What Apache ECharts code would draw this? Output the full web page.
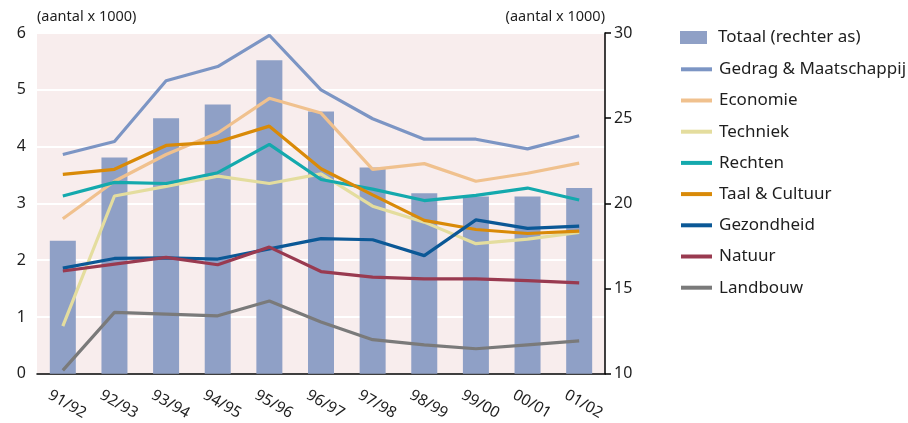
<!DOCTYPE html>
<html>
<head>
<meta charset="utf-8">
<script src="https://cdn.jsdelivr.net/npm/echarts@6/dist/echarts.min.js"></script>
<style>
  html, body { margin: 0; padding: 0; background: #ffffff; }
  #chart { width: 908px; height: 423px; }
</style>
</head>
<body>
<div id="chart"></div>
<script>
// Academic years
const years = ['91/92', '92/93', '93/94', '94/95', '95/96', '96/97', '97/98', '98/99', '99/00', '00/01', '01/02'];

// Total (right axis, x 1000)
const totaal = [17.8, 22.7, 25.0, 25.8, 28.4, 25.4, 22.1, 20.6, 20.4, 20.4, 20.9];

// Per sector (left axis, x 1000)
const gedrag     = [3.86, 4.09, 5.16, 5.41, 5.96, 5.00, 4.49, 4.13, 4.13, 3.96, 4.19];
const economie   = [2.73, 3.39, 3.86, 4.24, 4.85, 4.59, 3.60, 3.70, 3.39, 3.53, 3.71];
const techniek   = [0.84, 3.13, 3.30, 3.48, 3.35, 3.52, 2.95, 2.67, 2.29, 2.37, 2.49];
const rechten    = [3.13, 3.37, 3.35, 3.54, 4.04, 3.42, 3.25, 3.05, 3.14, 3.27, 3.06];
const taal       = [3.51, 3.60, 4.02, 4.08, 4.36, 3.61, 3.15, 2.70, 2.54, 2.47, 2.51];
const gezondheid = [1.86, 2.03, 2.04, 2.02, 2.20, 2.38, 2.36, 2.08, 2.71, 2.56, 2.60];
const natuur     = [1.81, 1.93, 2.05, 1.92, 2.23, 1.80, 1.70, 1.67, 1.67, 1.64, 1.60];
const landbouw   = [0.06, 1.08, 1.05, 1.02, 1.28, 0.91, 0.60, 0.51, 0.44, 0.51, 0.58];

const leftTicks = { min: 0, max: 6, interval: 1 };
const rightTicks = { min: 10, max: 30, interval: 5 };

const FONT = '"Noto Sans", "DejaVu Sans", sans-serif';
const INK = '#1e1e1e';

const lineDefs = [
  { name: 'Gedrag & Maatschappij', data: gedrag,     color: '#7c95c4' },
  { name: 'Economie',              data: economie,   color: '#f0c18e' },
  { name: 'Techniek',              data: techniek,   color: '#e4dd9e' },
  { name: 'Rechten',               data: rechten,    color: '#14a9ad' },
  { name: 'Taal & Cultuur',        data: taal,       color: '#d98a08' },
  { name: 'Gezondheid',            data: gezondheid, color: '#0b5896' },
  { name: 'Natuur',                data: natuur,     color: '#993a50' },
  { name: 'Landbouw',              data: landbouw,   color: '#7a7a7a' }
];

const chart = echarts.init(document.getElementById('chart'), null, { renderer: 'canvas' });

const series = [{
  name: 'Totaal (rechter as)',
  type: 'bar',
  yAxisIndex: 1,
  data: totaal,
  barWidth: 26,
  itemStyle: { color: '#8fa0c6' },
  silent: true,
  z: 2
}].concat(lineDefs.map(d => ({
  name: d.name,
  type: 'line',
  yAxisIndex: 0,
  data: d.data,
  symbol: 'none',
  lineStyle: { color: d.color, width: 3.2 },
  itemStyle: { color: d.color },
  silent: true,
  z: 3
})));

chart.setOption({
  animation: false,
  backgroundColor: '#ffffff',
  textStyle: { fontFamily: FONT },
  grid: {
    left: 37, right: 303, top: 33, bottom: 48,
    show: true, backgroundColor: '#f8eded', borderWidth: 0
  },
  legend: [{
    data: ['Totaal (rechter as)'],
    orient: 'vertical',
    left: 680, top: 27.5,
    padding: 0,
    itemWidth: 27, itemHeight: 13,
    icon: 'rect',
    selectedMode: false,
    textStyle: { fontFamily: FONT, fontSize: 17, color: INK, lineHeight: 20, padding: [0, 0, 0, 6] }
  }, {
    data: lineDefs.map(d => d.name),
    orient: 'vertical',
    left: 681, top: 59.3,
    padding: 0,
    itemWidth: 31, itemHeight: 4,
    itemGap: 11.2,
    icon: 'rect',
    selectedMode: false,
    textStyle: { fontFamily: FONT, fontSize: 17, color: INK, lineHeight: 20, padding: [0, 0, 0, 2] }
  }],
  xAxis: {
    type: 'category',
    data: years,
    boundaryGap: true,
    axisLine: { lineStyle: { color: '#000', width: 1.5 } },
    axisTick: { alignWithLabel: true, length: 6, lineStyle: { color: '#000', width: 1.5 } },
    axisLabel: {
      rotate: -30,
      align: 'center',
      verticalAlign: 'middle',
      margin: 28,
      padding: [0, 0, 0, 10],
      fontFamily: FONT,
      fontSize: 15.5,
      color: INK
    }
  },
  yAxis: [{
    type: 'value',
    min: leftTicks.min, max: leftTicks.max, interval: leftTicks.interval,
    position: 'left',
    name: '(aantal x 1000)',
    nameLocation: 'end',
    nameGap: 16,
    nameTextStyle: { fontFamily: FONT, fontSize: 14.5, color: INK, align: 'left', verticalAlign: 'middle' },
    axisLine: { show: false },
    axisTick: { show: false },
    axisLabel: { fontFamily: FONT, fontSize: 16, color: INK, margin: 11 },
    splitLine: { show: true, lineStyle: { color: '#ffffff', width: 2 } }
  }, {
    type: 'value',
    min: rightTicks.min, max: rightTicks.max, interval: rightTicks.interval,
    position: 'right',
    name: '(aantal x 1000)',
    nameLocation: 'end',
    nameGap: 16,
    nameTextStyle: { fontFamily: FONT, fontSize: 14.5, color: INK, align: 'right', verticalAlign: 'middle' },
    axisLine: { show: true, lineStyle: { color: '#000', width: 1.5 } },
    axisTick: { show: true, inside: false, length: 6, lineStyle: { color: '#000', width: 1.5 } },
    axisLabel: { fontFamily: FONT, fontSize: 16, color: INK, margin: 9 },
    splitLine: { show: false }
  }],
  series: series
});
</script>
</body>
</html>
